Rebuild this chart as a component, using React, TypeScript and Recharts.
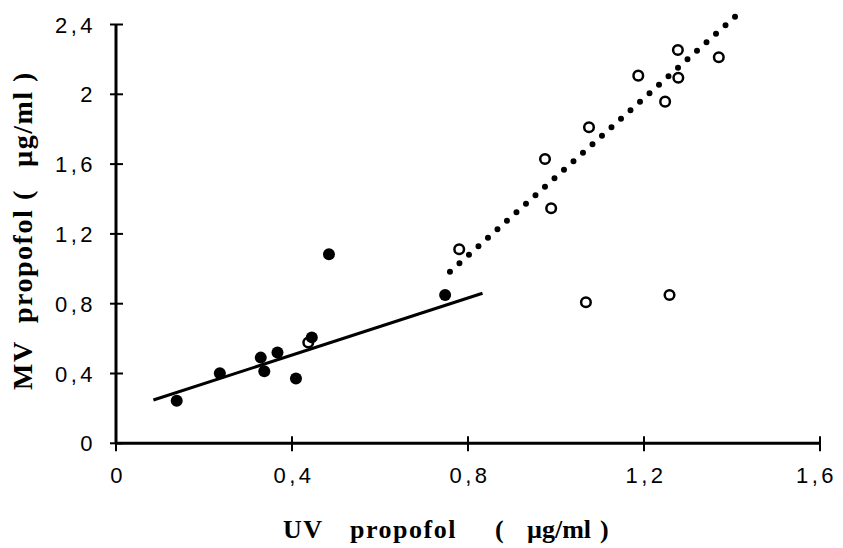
import React from 'react';
import { ComposedChart, Scatter, XAxis, YAxis, Label, ReferenceLine } from 'recharts';

const xTicks = [0, 0.4, 0.8, 1.2, 1.6];
const xTickLabels = ['0', '0,4', '0,8', '1,2', '1,6'];
const yTicks = [0, 0.4, 0.8, 1.2, 1.6, 2, 2.4];
const yTickLabels = ['0', '0,4', '0,8', '1,2', '1,6', '2', '2,4'];

const xTitleWords = ['UV', 'propofol', '(', 'µg/ml', ')'];
const yTitleWords = ['MV', 'propofol', '(', 'µg/ml', ')'];

// filled circles
const filledUV = [0.138, 0.236, 0.329, 0.337, 0.367, 0.409, 0.445, 0.484, 0.748];
const filledMV = [0.244, 0.401, 0.491, 0.413, 0.521, 0.372, 0.607, 1.083, 0.85];

// open circles
const openUV = [0.437, 0.78, 0.975, 0.989, 1.075, 1.068, 1.187, 1.248, 1.277, 1.278, 1.258, 1.37];
const openMV = [0.578, 1.112, 1.629, 1.347, 1.811, 0.808, 2.107, 1.958, 2.254, 2.095, 0.85, 2.212];

// regression lines (end points)
const solidFitUV = [0.085, 0.833];
const solidFitMV = [0.248, 0.86];
const dottedFitUV = [0.759, 1.407];
const dottedFitMV = [0.983, 2.445];

const toPoints = (xs: number[], ys: number[]) => xs.map((x, i) => ({ x, y: ys[i] }));

const filledData = toPoints(filledUV, filledMV);
const openData = toPoints(openUV, openMV);
const solidSegment = toPoints(solidFitUV, solidFitMV);
const dottedSegment = toPoints(dottedFitUV, dottedFitMV);

const SANS = "'Liberation Sans', Arial, Helvetica, sans-serif";
const SERIF = "'Liberation Serif', 'Times New Roman', Times, serif";

const XTick = (props: any) => {
  const { x, y, payload } = props;
  const i = xTicks.indexOf(payload.value);
  const label = i >= 0 ? xTickLabels[i] : String(payload.value);
  const last = i === xTicks.length - 1;
  return (
    <g>
      <line x1={x} x2={x} y1={y - 7} y2={y + 8} stroke="#000" strokeWidth={2} />
      <text
        x={last ? x + 17 : x + 2}
        y={y + 40}
        textAnchor={last ? 'end' : 'middle'}
        fill="#000"
        style={{ fontFamily: SANS, fontSize: 22, letterSpacing: '3.5px' }}
      >
        {label}
      </text>
    </g>
  );
};

const YTick = (props: any) => {
  const { x, y, payload } = props;
  const i = yTicks.indexOf(payload.value);
  const label = i >= 0 ? yTickLabels[i] : String(payload.value);
  return (
    <g>
      <line x1={x - 6} x2={x + 7} y1={y} y2={y} stroke="#000" strokeWidth={2} />
      <text
        x={x - 20}
        y={y + 8}
        textAnchor="end"
        fill="#000"
        style={{ fontFamily: SANS, fontSize: 22, letterSpacing: '3.5px' }}
      >
        {label}
      </text>
    </g>
  );
};

const xTitleOffsets = [0, 67, 212, 244, 317];
const yTitleOffsets = [0, 67, 190, 223, 308];

const XTitle = () => (
  <text
    y={530}
    fill="#000"
    style={{ fontFamily: SERIF, fontSize: 26, fontWeight: 'bold', letterSpacing: '1.5px' }}
  >
    {xTitleWords.map((w, i) => (
      <tspan key={i} x={275 + xTitleOffsets[i]} style={i === 3 ? { letterSpacing: '0px' } : undefined}>
        {w}
      </tspan>
    ))}
  </text>
);

const YTitle = () => (
  <text
    transform="rotate(-90)"
    y={24}
    fill="#000"
    style={{ fontFamily: SERIF, fontSize: 28, fontWeight: 'bold', letterSpacing: '1.5px' }}
  >
    {yTitleWords.map((w, i) => (
      <tspan key={i} x={-382 + yTitleOffsets[i]}>
        {w}
      </tspan>
    ))}
  </text>
);

const FilledDot = (props: any) => {
  const { cx, cy } = props;
  return <circle cx={cx} cy={cy} r={6} fill="#000" />;
};

const OpenDot = (props: any) => {
  const { cx, cy } = props;
  return <circle cx={cx} cy={cy} r={4.8} fill="#fff" stroke="#000" strokeWidth={2.5} />;
};

export default function App() {
  return (
    <div style={{ width: 835, height: 540 }}>
      <ComposedChart
        width={835}
        height={540}
        margin={{ top: 16.5, right: 23, bottom: 0, left: 0 }}
        style={{ background: '#fff' }}
      >
        <XAxis
          type="number"
          dataKey="x"
          domain={[0, 1.6]}
          allowDataOverflow
          ticks={xTicks}
          interval={0}
          height={104.7}
          tickSize={0}
          tickMargin={0}
          tickLine={false}
          axisLine={{ stroke: '#000', strokeWidth: 3 }}
          tick={<XTick />}
        >
          <Label content={<XTitle />} />
        </XAxis>
        <YAxis
          type="number"
          dataKey="y"
          domain={[0, 2.4]}
          ticks={yTicks}
          interval={0}
          width={108}
          tickSize={0}
          tickMargin={0}
          tickLine={false}
          axisLine={{ stroke: '#000', strokeWidth: 3 }}
          tick={<YTick />}
        >
          <Label content={<YTitle />} />
        </YAxis>
        <ReferenceLine
          segment={solidSegment}
          ifOverflow="visible"
          stroke="#000"
          strokeWidth={3}
        />
        <ReferenceLine
          segment={dottedSegment}
          ifOverflow="visible"
          stroke="#000"
          strokeWidth={6}
          strokeDasharray="0 12.75"
          strokeLinecap="round"
        />
        <Scatter data={openData} shape={<OpenDot />} isAnimationActive={false} />
        <Scatter data={filledData} shape={<FilledDot />} isAnimationActive={false} />
      </ComposedChart>
    </div>
  );
}
